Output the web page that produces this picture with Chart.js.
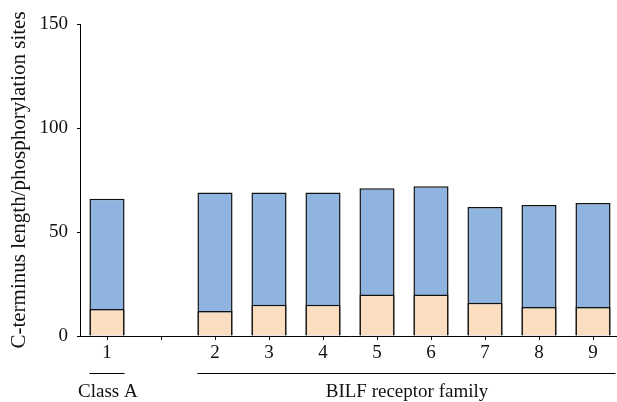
<!DOCTYPE html>
<html>
<head>
<meta charset="utf-8">
<script src="https://cdn.jsdelivr.net/npm/chart.js@4"></script>
<style>
  html, body { margin: 0; padding: 0; background: #fff; overflow: hidden; }
  #wrap { width: 621px; height: 402px; }
</style>
</head>
<body>
<div id="wrap"><canvas id="chart" width="621" height="402"></canvas></div>
<script>
// Категории (пустая позиция между классом A и семейством BILF)
const categories = ['1', '', '2', '3', '4', '5', '6', '7', '8', '9'];

// Длина C-конца и число сайтов фосфорилирования
const terminusLength = [66, null, 69, 69, 69, 71, 72, 62, 63, 64];
const phosphoSites   = [13, null, 12, 15, 15, 20, 20, 16, 14, 14];

const yTicks = [0, 50, 100, 150];

// Подписи групп под осью X: [первый индекс, последний индекс, текст]
const groupLabels = [
    [0, 0, 'Class A'],
    [2, 9, 'BILF receptor family']
];

const serif = '"Liberation Serif", "DejaVu Serif", serif';
const barPct = 0.65;

// Линии и подписи групп под осью
const groupPlugin = {
    id: 'groups',
    afterDraw(chart) {
        const ctx = chart.ctx;
        const x = chart.scales.x;
        const step = x.getPixelForValue(1) - x.getPixelForValue(0);
        const halfBar = step * barPct / 2;
        ctx.save();
        ctx.strokeStyle = '#000';
        ctx.lineWidth = 1;
        ctx.fillStyle = '#111';
        ctx.font = '19px ' + serif;
        ctx.textBaseline = 'middle';
        groupLabels.forEach(([from, to, text], i) => {
            const x1 = x.getPixelForValue(from) - halfBar;
            const x2 = i === 0 ? x.getPixelForValue(to) + halfBar
                               : x.getPixelForValue(to) + halfBar + 5;
            ctx.beginPath();
            ctx.moveTo(x1, 373.5);
            ctx.lineTo(x2, 373.5);
            ctx.stroke();
            if (i === 0) {
                ctx.textAlign = 'left';
                ctx.fillText(text, 78, 392);
            } else {
                ctx.textAlign = 'center';
                ctx.fillText(text, 407, 392);
            }
        });
        ctx.restore();
    }
};

new Chart(document.getElementById('chart'), {
    type: 'bar',
    data: {
        labels: categories,
        datasets: [
            {
                label: 'Phosphorylation sites',
                data: phosphoSites,
                backgroundColor: '#fbdec0',
                borderColor: '#111',
                borderWidth: 1.5
            },
            {
                label: 'C-terminus length',
                data: terminusLength,
                backgroundColor: '#8fb4e0',
                borderColor: '#111',
                borderWidth: 1.5
            }
        ]
    },
    options: {
        responsive: false,
        animation: false,
        categoryPercentage: 1,
        barPercentage: barPct,
        layout: { padding: { top: 24, bottom: 0, left: 0, right: 1 } },
        plugins: {
            legend: { display: false },
            tooltip: { enabled: false }
        },
        scales: {
            x: {
                stacked: true,
                afterFit(axis) { axis.height = 66; },
                grid: { display: true, offset: false, drawOnChartArea: false, drawTicks: true, tickLength: 4, color: '#000' },
                border: { display: true, color: '#000', width: 1 },
                ticks: { color: '#111', font: { family: serif, size: 19 }, padding: 2 }
            },
            y: {
                stacked: false,
                min: 0,
                max: 150,
                afterBuildTicks(axis) { axis.ticks = yTicks.map(v => ({ value: v })); },
                afterFit(axis) { axis.width = 80; },
                grid: { display: true, drawOnChartArea: false, drawTicks: true, tickLength: 3, color: '#000' },
                border: { display: true, color: '#000', width: 1 },
                ticks: { color: '#111', font: { family: serif, size: 19 }, padding: 9 },
                title: {
                    display: true,
                    text: 'C-terminus length/phosphorylation sites',
                    color: '#111',
                    font: { family: serif, size: 21 },
                    padding: { top: 7, bottom: 0 }
                }
            }
        }
    },
    plugins: [groupPlugin]
});
</script>
</body>
</html>
